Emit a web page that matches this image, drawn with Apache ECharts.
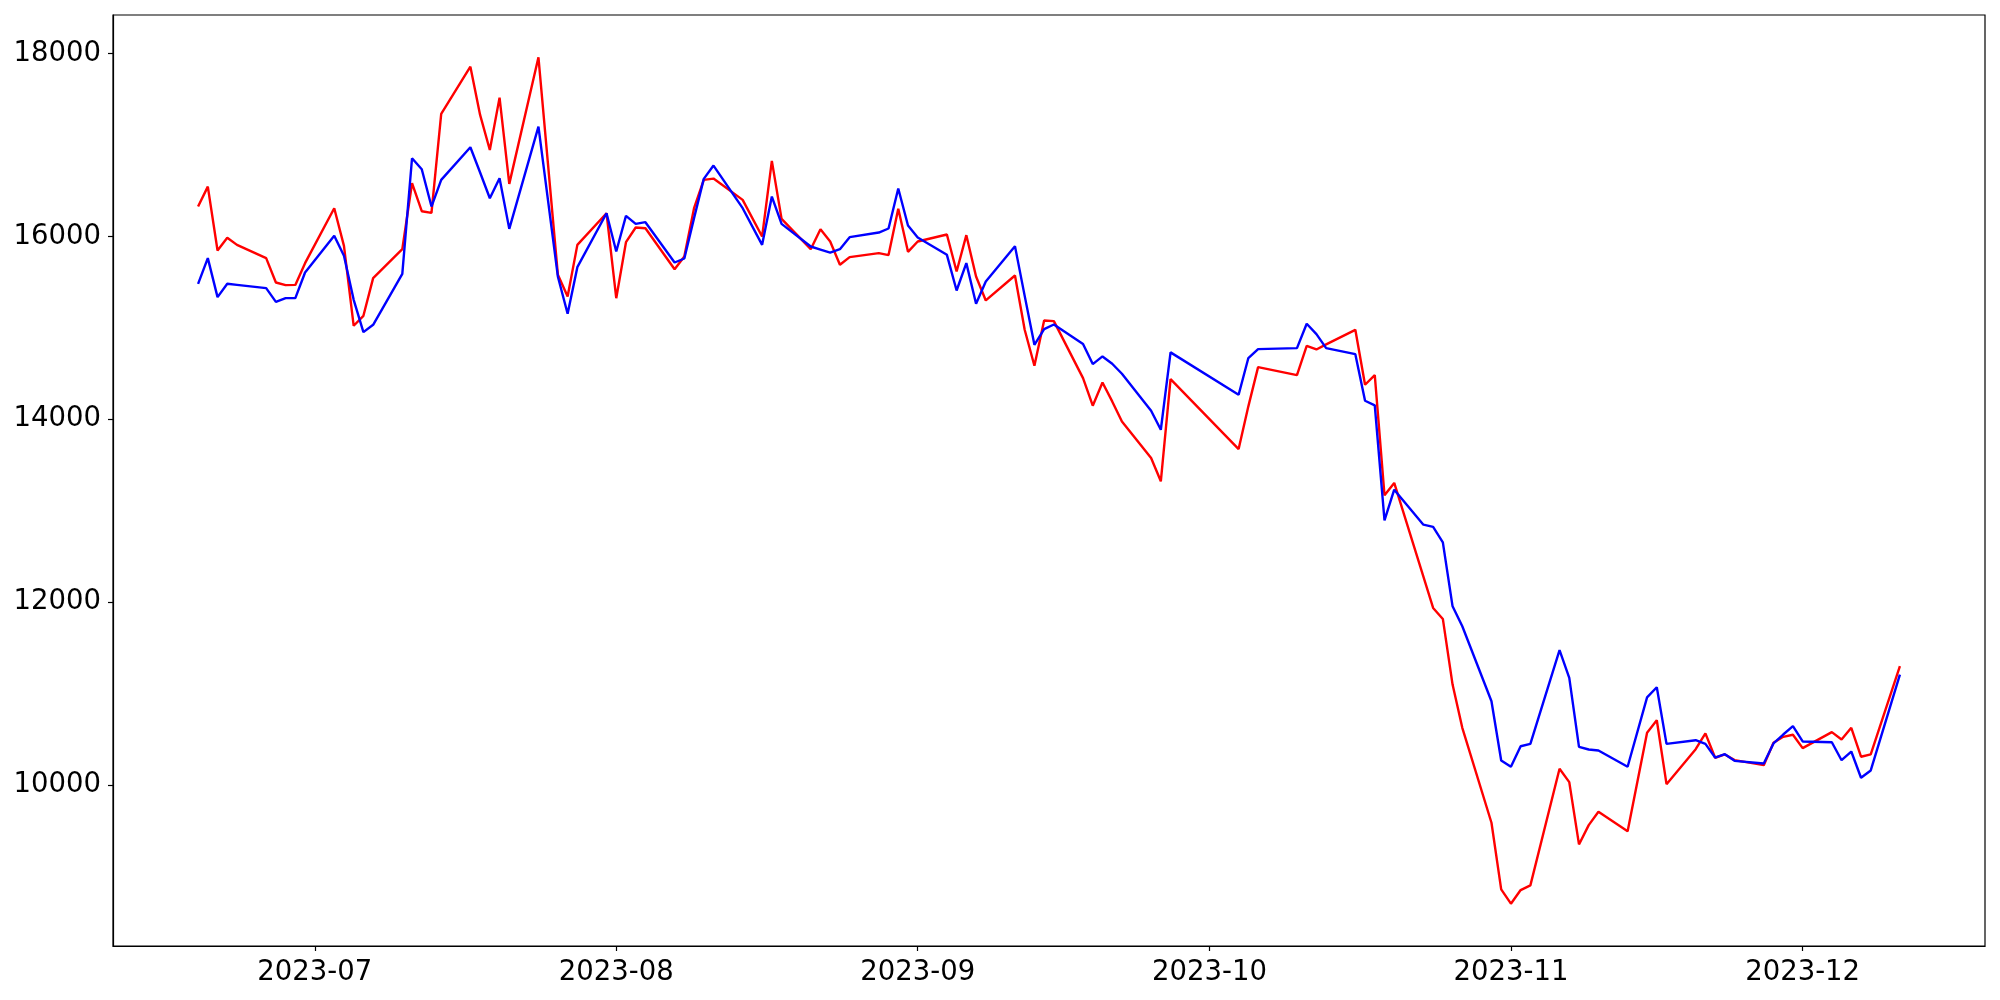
<!DOCTYPE html>
<html>
<head>
<meta charset="utf-8">
<script src="https://cdn.jsdelivr.net/npm/echarts@6/dist/echarts.min.js"></script>
<style>
html,body{margin:0;padding:0;background:#fff;}
#chart{width:2000px;height:1000px;}
</style>
</head>
<body>
<div id="chart"></div>
<script>
var dates = [
'2023-06-19','2023-06-20','2023-06-21','2023-06-22','2023-06-23',
'2023-06-26','2023-06-27','2023-06-28','2023-06-29','2023-06-30',
'2023-07-03','2023-07-04','2023-07-05','2023-07-06','2023-07-07',
'2023-07-10','2023-07-11','2023-07-12','2023-07-13','2023-07-14',
'2023-07-17','2023-07-18','2023-07-19','2023-07-20','2023-07-21',
'2023-07-24','2023-07-26','2023-07-27','2023-07-28',
'2023-07-31','2023-08-01','2023-08-02','2023-08-03','2023-08-04',
'2023-08-07','2023-08-08','2023-08-09','2023-08-10','2023-08-11',
'2023-08-14','2023-08-16','2023-08-17','2023-08-18',
'2023-08-21','2023-08-22','2023-08-23','2023-08-24','2023-08-25',
'2023-08-28','2023-08-29','2023-08-30','2023-08-31','2023-09-01',
'2023-09-04','2023-09-05','2023-09-06','2023-09-07','2023-09-08',
'2023-09-11','2023-09-12','2023-09-13','2023-09-14','2023-09-15',
'2023-09-18','2023-09-19','2023-09-20','2023-09-21','2023-09-22',
'2023-09-25','2023-09-26','2023-09-27',
'2023-10-04','2023-10-05','2023-10-06',
'2023-10-10','2023-10-11','2023-10-12','2023-10-13',
'2023-10-16','2023-10-17','2023-10-18','2023-10-19','2023-10-20',
'2023-10-23','2023-10-24','2023-10-25','2023-10-26','2023-10-27',
'2023-10-30','2023-10-31','2023-11-01','2023-11-02','2023-11-03',
'2023-11-06','2023-11-07','2023-11-08','2023-11-09','2023-11-10',
'2023-11-13','2023-11-15','2023-11-16','2023-11-17',
'2023-11-20','2023-11-21','2023-11-22','2023-11-23','2023-11-24',
'2023-11-27','2023-11-28','2023-11-29','2023-11-30','2023-12-01',
'2023-12-04','2023-12-05','2023-12-06','2023-12-07','2023-12-08',
'2023-12-11'
];
var redValues = [
16327,16545,15846,15985,15908,
15763,15496,15468,15470,15708,
16309,15897,15023,15132,15544,
15861,16582,16276,16258,17340,
17857,17329,16946,17518,16575,
17959,15580,15343,15908,
16254,15325,15937,16098,16090,
15642,15781,16309,16619,16633,
16400,15999,16826,16192,
15861,16079,15945,15690,15774,
15817,15796,16302,15832,15945,
16021,15617,16014,15562,15300,
15573,14979,14586,15081,15074,
14451,14149,14403,14196,13977,
13577,13322,14440,
13675,14142,14571,
14483,14804,14764,14819,
14979,14378,14483,13169,13304,
12280,11937,11817,11099,10626,
9588,8859,8703,8852,8903,
10178,10032,9351,9562,9708,
9495,10572,10709,10010,
10393,10565,10299,10335,10273,
10218,10462,10528,10550,10404,
10579,10499,10626,10310,10335,
11300
];
var blueValues = [
15482,15763,15336,15482,15471,
15435,15285,15325,15325,15606,
16007,15788,15307,14954,15034,
15591,16855,16735,16327,16619,
16976,16699,16418,16637,16083,
17201,15560,15154,15664,
16254,15835,16225,16138,16156,
15715,15759,16200,16630,16775,
16309,15908,16436,16138,
15890,15857,15824,15861,15992,
16043,16087,16524,16119,15988,
15799,15409,15708,15263,15507,
15894,15350,14815,14986,15037,
14823,14604,14688,14608,14498,
14094,13886,14732,
14269,14670,14768,
14779,15045,14932,14779,
14713,14203,14152,12895,13230,
12848,12823,12655,11955,11737,
10917,10269,10200,10425,10451,
11475,11173,10418,10389,10378,
10200,10960,11070,10451,
10491,10451,10301,10338,10265,
10236,10455,10553,10644,10477,
10469,10272,10367,10080,10160,
11209
];
var xTickLabels = ['2023-07','2023-08','2023-09','2023-10','2023-11','2023-12'];
var yTickValues = [10000,12000,14000,16000,18000];

function toTs(s){
  var p = s.split('-');
  return Date.UTC(+p[0], +p[1]-1, p[2] ? +p[2] : 1);
}
var tsList = dates.map(toTs);
var span = tsList[tsList.length-1] - tsList[0];
var xMin = tsList[0] - 0.05*span;
var xMax = tsList[tsList.length-1] + 0.05*span;
var allV = redValues.concat(blueValues);
var vMin = Math.min.apply(null, allV), vMax = Math.max.apply(null, allV);
var yMin = vMin - 0.05*(vMax - vMin);
var yMax = vMax + 0.05*(vMax - vMin);
var xTickTs = xTickLabels.map(toTs);

function pairs(vals){ return tsList.map(function(t,i){ return [t, vals[i]]; }); }
function fmtMonth(v){
  var i = xTickTs.indexOf(v);
  if (i >= 0) return xTickLabels[i];
  var d = new Date(v);
  return d.getUTCFullYear() + '-' + String(d.getUTCMonth()+1).padStart(2,'0');
}

var chart = echarts.init(document.getElementById('chart'), null, {renderer:'canvas'});
var font = 'DejaVu Sans';
chart.setOption({
  animation: false,
  backgroundColor: '#ffffff',
  grid: {left:113, right:15, top:15, bottom:54, show:true, borderColor:'#000', borderWidth:1.2, backgroundColor:'transparent'},
  xAxis: {
    type:'value', min:xMin, max:xMax, scale:true,
    axisLine:{show:true, onZero:false, lineStyle:{color:'#000', width:1.2}},
    axisTick:{show:true, inside:false, length:5, lineStyle:{color:'#000', width:1.2}, customValues: xTickTs},
    axisLabel:{show:true, color:'#000', fontSize:27.5, fontFamily:font, margin:13, customValues: xTickTs, formatter: fmtMonth},
    splitLine:{show:false}
  },
  yAxis: {
    type:'value', min:yMin, max:yMax, scale:true,
    axisLine:{show:true, onZero:false, lineStyle:{color:'#000', width:1.2}},
    axisTick:{show:true, inside:false, length:5, lineStyle:{color:'#000', width:1.2}, customValues: yTickValues},
    axisLabel:{show:true, color:'#000', fontSize:27.5, fontFamily:font, margin:12, customValues: yTickValues,
      formatter:function(v){ return String(Math.round(v)); }},
    splitLine:{show:false}
  },
  series: [
    {type:'line', data:pairs(redValues), showSymbol:false, symbol:'none', lineStyle:{color:'#ff0000', width:2.4}, itemStyle:{color:'#ff0000'}},
    {type:'line', data:pairs(blueValues), showSymbol:false, symbol:'none', lineStyle:{color:'#0000ff', width:2.4}, itemStyle:{color:'#0000ff'}}
  ]
});
</script>
</body>
</html>
